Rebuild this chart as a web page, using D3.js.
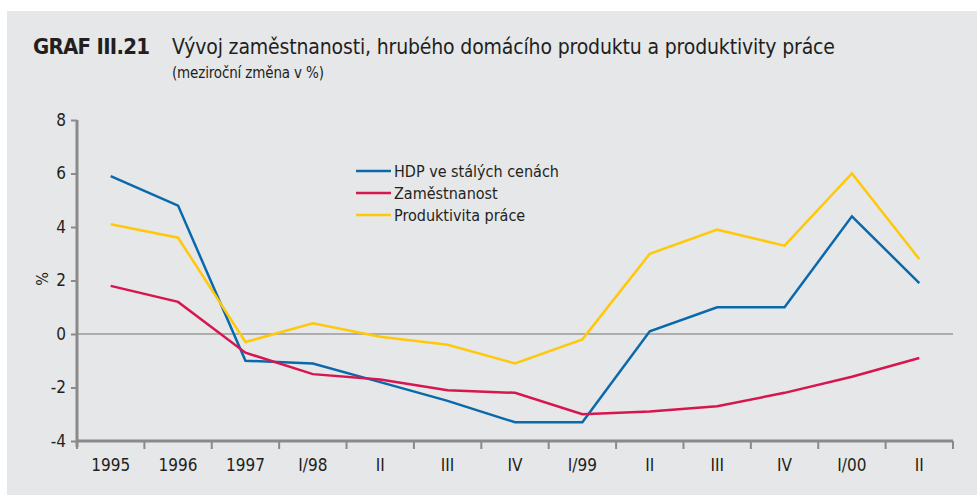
<!DOCTYPE html>
<html>
<head>
<meta charset="utf-8">
<script src="https://cdn.jsdelivr.net/npm/d3@7"></script>
<style>
  body { margin: 0; background: #ffffff; }
  svg { display: block; }
  text { font-family: "DejaVu Sans Condensed", "DejaVu Sans", sans-serif; fill: #231f20; }
</style>
</head>
<body>
<svg width="977" height="495"></svg>
<script>
// period labels on the x axis
var periods = ["1995", "1996", "1997", "I/98", "II", "III", "IV", "I/99", "II", "III", "IV", "I/00", "II"];
// year-on-year change in %
var hdp = [5.9, 4.8, -1.0, -1.1, -1.8, -2.5, -3.3, -3.3, 0.1, 1.0, 1.0, 4.4, 1.9];
var zamestnanost = [1.8, 1.2, -0.7, -1.5, -1.7, -2.1, -2.2, -3.0, -2.9, -2.7, -2.2, -1.6, -0.9];
var produktivita = [4.1, 3.6, -0.3, 0.4, -0.1, -0.4, -1.1, -0.2, 3.0, 3.9, 3.3, 6.0, 2.8];
var seriesNames = ["HDP ve stálých cenách", "Zaměstnanost", "Produktivita práce"];
var yTicks = [-4, -2, 0, 2, 4, 6, 8];

var colors = ["#0a69ab", "#d7164f", "#ffc80b"];
var series = [hdp, zamestnanost, produktivita];

var svg = d3.select("svg");

// grey panel
svg.append("rect")
   .attr("x", 7).attr("y", 11)
   .attr("width", 970).attr("height", 484)
   .attr("fill", "#e6e7e9");

// title
svg.append("text")
   .attr("x", 33).attr("y", 54)
   .attr("font-weight", "bold")
   .attr("textLength", 117)
   .style("font-size", "22px")
   .text("GRAF III.21");
svg.append("text")
   .attr("x", 172).attr("y", 54)
   .attr("textLength", 663)
   .style("font-size", "21px")
   .text("Vývoj zaměstnanosti, hrubého domácího produktu a produktivity práce");

svg.append("text")
   .attr("x", 172).attr("y", 78)
   .attr("textLength", 152)
   .style("font-size", "15px")
   .text("(meziroční změna v %)");

var plotL = 77, plotR = 953, plotT = 120, plotB = 441;

var x = d3.scaleBand().domain(d3.range(periods.length)).range([plotL, plotR]);
var y = d3.scaleLinear().domain([-4, 8]).range([plotB, plotT]);

var axisColor = "#8a8a8a";

// zero line
svg.append("line")
   .attr("x1", plotL).attr("x2", plotR)
   .attr("y1", y(0)).attr("y2", y(0))
   .attr("stroke", "#9a9a9a").attr("stroke-width", 1.5);

// y axis
var yAxis = svg.append("g")
   .attr("transform", "translate(" + plotL + ",0)")
   .call(d3.axisLeft(y).tickValues(yTicks).tickSize(6).tickPadding(5).tickFormat(function (d) { return String(d); }));
yAxis.select(".domain").attr("stroke", axisColor).attr("stroke-width", 3)
   .attr("d", "M0," + plotT + "V" + (plotB + 6));
yAxis.selectAll(".tick line").attr("stroke", axisColor).attr("stroke-width", 2);
yAxis.selectAll(".tick text").style("font-size", "17px").attr("fill", "#2b2829")
   .style("font-family", "'DejaVu Sans Condensed', sans-serif");

// x axis
var xAxis = svg.append("g")
   .attr("transform", "translate(0," + plotB + ")")
   .call(d3.axisBottom(x).tickFormat(function (i) { return periods[i]; }).tickSize(0).tickPadding(18));
xAxis.select(".domain").attr("stroke", axisColor).attr("stroke-width", 3)
   .attr("d", "M" + plotL + ",0H" + plotR);
xAxis.selectAll(".tick text").style("font-size", "17px").attr("fill", "#2b2829")
   .style("font-family", "'DejaVu Sans Condensed', sans-serif");
svg.append("g")
   .selectAll("line")
   .data(d3.range(periods.length + 1))
   .enter()
   .append("line")
   .attr("x1", function (i) { return plotL + i * x.step(); })
   .attr("x2", function (i) { return plotL + i * x.step(); })
   .attr("y1", plotB).attr("y2", plotB + 8)
   .attr("stroke", axisColor).attr("stroke-width", 2);

// y label
svg.append("text")
   .attr("transform", "translate(48,279) rotate(-90)")
   .attr("text-anchor", "middle")
   .style("font-size", "16px")
   .text("%");

// lines
var line = d3.line()
   .x(function (d, i) { return x(i) + x.bandwidth() / 2; })
   .y(function (d) { return y(d); });

series.forEach(function (s, k) {
  svg.append("path")
     .datum(s)
     .attr("d", line)
     .attr("fill", "none")
     .attr("stroke", colors[k])
     .attr("stroke-width", 2.5)
     .attr("stroke-linejoin", "miter");
});

// legend
var legend = svg.append("g").attr("transform", "translate(356,171)");
seriesNames.forEach(function (n, k) {
  legend.append("line")
     .attr("x1", 0).attr("x2", 35)
     .attr("y1", k * 22).attr("y2", k * 22)
     .attr("stroke", colors[k]).attr("stroke-width", 2.5);
  legend.append("text")
     .attr("x", 38).attr("y", k * 22 + 6)
     .style("font-size", "16px")
     .text(n);
});
</script>
</body>
</html>
